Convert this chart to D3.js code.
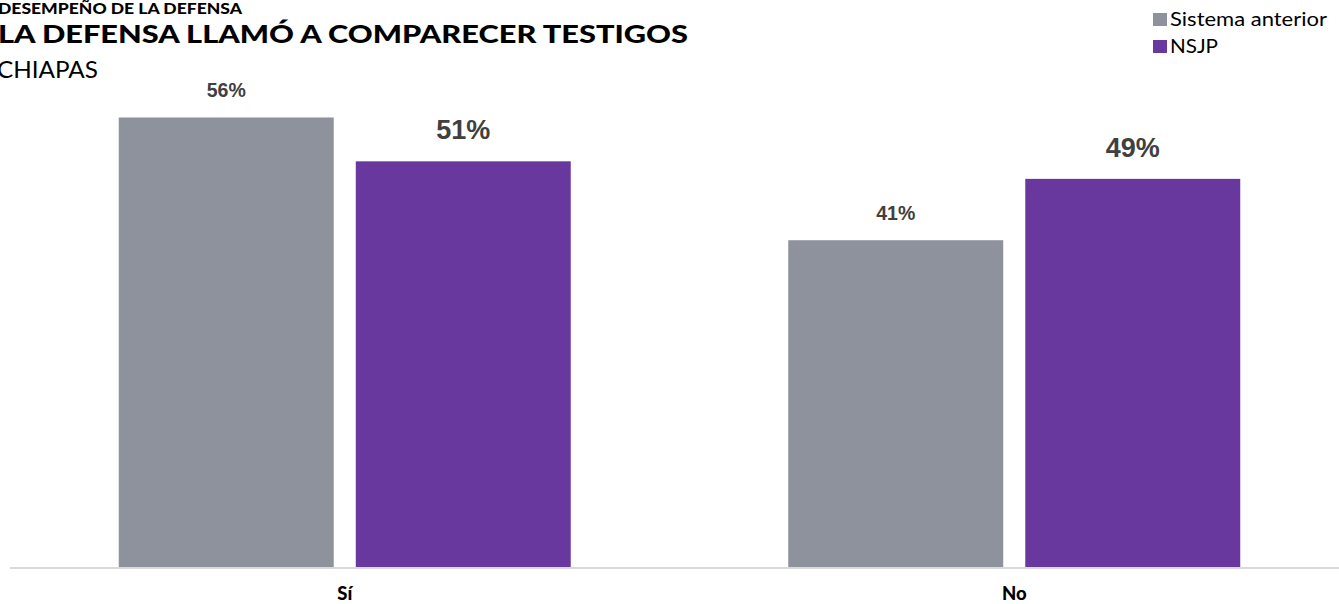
<!DOCTYPE html>
<html>
<head>
<meta charset="utf-8">
<script src="https://cdn.jsdelivr.net/npm/d3@7"></script>
<style>
  body { margin: 0; background: #fff; }
  svg { display: block; }
</style>
</head>
<body>
<div id="chart"></div>
<script>
var categories = ["Sí", "No"];
var series = ["Sistema anterior", "NSJP"];
var valuesAnterior = [56.4, 41.0];
var valuesNSJP = [50.9, 48.7];

var width = 1339;
var height = 604;
var baseline = 567;

var colors = { "Sistema anterior": "#8e929c", "NSJP": "#68389f" };

var svg = d3
  .select("#chart")
  .append("svg")
  .attr("width", width)
  .attr("height", height);

// titles (the reference type is a wide Lato, so stretch it to the measured width)
svg.append("text")
  .attr("x", -2)
  .attr("y", 14)
  .attr("textLength", 244)
  .attr("lengthAdjust", "spacingAndGlyphs")
  .style("font-family", "Lato")
  .style("font-weight", "900")
  .style("font-size", "14.5px")
  .style("fill", "#000")
  .text("DESEMPEÑO DE LA DEFENSA");

svg.append("text")
  .attr("x", -2)
  .attr("y", 43)
  .attr("textLength", 690)
  .attr("lengthAdjust", "spacingAndGlyphs")
  .style("font-family", "Lato")
  .style("font-weight", "900")
  .style("font-size", "25.5px")
  .style("fill", "#000")
  .text("LA DEFENSA LLAMÓ A COMPARECER TESTIGOS");

svg.append("text")
  .attr("x", -3)
  .attr("y", 78)
  .attr("textLength", 101)
  .attr("lengthAdjust", "spacingAndGlyphs")
  .style("font-family", "Lato")
  .style("font-size", "23.5px")
  .style("fill", "#000")
  .text("CHIAPAS");

var data = categories.map(function (c, i) {
  return { cat: c, vals: [
    { key: series[0], value: valuesAnterior[i] },
    { key: series[1], value: valuesNSJP[i] }
  ] };
});

var x0 = d3.scaleBand().domain(categories).range([10, 1349]).padding(0);
var x1 = d3.scaleBand().domain(series).range([0, 452]).paddingInner(0.093);
var y = d3.scaleLinear().domain([0, 70]).range([baseline, baseline - 70 * 7.97]);

// axis line
svg.append("line")
  .attr("x1", 10)
  .attr("x2", width)
  .attr("y1", baseline + 1)
  .attr("y2", baseline + 1)
  .style("stroke", "#d9d9d9")
  .style("stroke-width", 2);

var groups = svg.selectAll(".grp")
  .data(data)
  .join("g")
  .attr("class", "grp")
  .attr("transform", function (d) {
    return "translate(" + (x0(d.cat) + x0.bandwidth() / 2 - 226) + ",0)";
  });

groups.selectAll("rect")
  .data(function (d) { return d.vals; })
  .join("rect")
  .attr("x", function (d) { return x1(d.key); })
  .attr("y", function (d) { return y(d.value); })
  .attr("width", x1.bandwidth())
  .attr("height", function (d) { return baseline - y(d.value); })
  .attr("fill", function (d) { return colors[d.key]; });

// NSJP labels are drawn bigger in the reference
groups.selectAll("text.lbl")
  .data(function (d) { return d.vals; })
  .join("text")
  .attr("class", "lbl")
  .attr("x", function (d) { return x1(d.key) + x1.bandwidth() / 2; })
  .attr("y", function (d) { return y(d.value) - (d.key == "NSJP" ? 22 : 20); })
  .style("text-anchor", "middle")
  .style("font-family", "Liberation Sans, Arial")
  .style("font-weight", "bold")
  .style("font-size", function (d) { return d.key == "NSJP" ? "27px" : "19.5px"; })
  .style("fill", "#404040")
  .text(function (d) { return Math.round(d.value) + "%"; });

// category labels
svg.selectAll(".cat")
  .data(categories)
  .join("text")
  .attr("class", "cat")
  .attr("x", function (d) { return x0(d) + x0.bandwidth() / 2; })
  .attr("y", 600)
  .style("text-anchor", "middle")
  .style("font-family", "Lato")
  .style("font-weight", "900")
  .style("font-size", "18.5px")
  .style("fill", "#000")
  .text(function (d) { return d; });

// legend
var legendWidths = [157, 48];
var legend = svg.selectAll(".legend")
  .data(series)
  .join("g")
  .attr("class", "legend")
  .attr("transform", function (d, i) { return "translate(1153," + (13 + i * 27) + ")"; });

legend.append("rect")
  .attr("width", 14)
  .attr("height", 13)
  .style("fill", function (d) { return colors[d]; });

legend.append("text")
  .attr("x", 17)
  .attr("y", 13)
  .attr("textLength", function (d, i) { return legendWidths[i]; })
  .attr("lengthAdjust", "spacingAndGlyphs")
  .style("font-family", "Lato")
  .style("font-size", "18.5px")
  .style("fill", "#000")
  .text(function (d) { return d; });
</script>
</body>
</html>
